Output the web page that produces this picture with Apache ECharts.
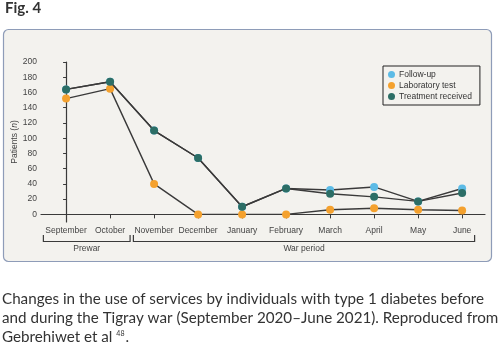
<!DOCTYPE html>
<html>
<head>
<meta charset="utf-8">
<script src="https://cdn.jsdelivr.net/npm/echarts@6/dist/echarts.min.js"></script>
<style>
  html, body { margin: 0; padding: 0; background: #ffffff; }
  #chart { width: 502px; height: 345px; }
</style>
</head>
<body>
<div id="chart"></div>
<script>
// Months on the x axis (September 2020 – June 2021)
const months = ['September', 'October', 'November', 'December', 'January',
                'February', 'March', 'April', 'May', 'June'];
// Patients (n) per month for each service
const followUp = [164, 174, 110, 74, 10, 34, 32, 36, 17, 34];
const labTest = [152, 165, 40, 0, 0, 0, 6, 8, 6, 5];
const treatment = [164, 174, 110, 74, 10, 34, 27, 23, 17, 28];
const yTicks = [0, 20, 40, 60, 80, 100, 120, 140, 160, 180, 200];
const periods = [
  { name: 'Prewar', from: 0, to: 1 },
  { name: 'War period', from: 2, to: 9 }
];
const captionLines = [
  'Changes in the use of services by individuals with type 1 diabetes before',
  'and during the Tigray war (September 2020\u2013June 2021). Reproduced from',
  'Gebrehiwet et al '
];
const captionRef = '48';

const chart = echarts.init(document.getElementById('chart'), null, { renderer: 'canvas' });
const axisFont = 'Liberation Sans';
const captionFont = '15.2px Lato';
const xIdx = months.map((_, i) => i);

function pairs(vals) { return vals.map((v, i) => [i, v]); }

function textWidth(text, font) {
  const ctx = document.createElement('canvas').getContext('2d');
  ctx.font = font;
  return ctx.measureText(text).width;
}

const lineStyle = { color: '#3a3a3a', width: 1.4 };

const option = {
  animation: false,
  backgroundColor: '#ffffff',
  grid: { left: 41, right: 17, top: 62, bottom: 123, containLabel: false, outerBoundsMode: 'none' },
  xAxis: {
    type: 'value',
    min: -0.57,
    max: 9.52,
    splitLine: { show: false },
    axisLine: { lineStyle: { color: '#3a3a3a', width: 1.2 } },
    axisTick: { customValues: xIdx, length: 4, lineStyle: { color: '#3a3a3a' } },
    axisLabel: {
      customValues: xIdx,
      formatter: v => months[Math.round(v)],
      fontFamily: axisFont, fontSize: 8.5, color: '#444', margin: 4
    }
  },
  yAxis: {
    type: 'value',
    min: -10,
    max: 200,
    name: '{a|Patients (}{b|n}{a|)}',
    nameLocation: 'middle',
    nameGap: 22,
    nameMoveOverlap: false,
    nameTextStyle: {
      rich: {
        a: { fontFamily: axisFont, fontSize: 8.5, color: '#444' },
        b: { fontFamily: axisFont, fontSize: 8.5, color: '#444', fontStyle: 'italic' }
      }
    },
    splitLine: { show: false },
    axisLine: { show: true, lineStyle: { color: '#3a3a3a', width: 1.2 } },
    axisTick: { show: true, customValues: yTicks, length: 3, lineStyle: { color: '#3a3a3a' } },
    axisLabel: {
      customValues: yTicks,
      fontFamily: axisFont, fontSize: 8.5, color: '#444', margin: 4
    }
  },
  legend: {
    data: ['Follow-up', 'Laboratory test', 'Treatment received'],
    orient: 'vertical',
    left: 383,
    top: 66,
    width: 97,
    padding: [4, 8, 4, 5],
    itemGap: 2,
    itemWidth: 7,
    itemHeight: 7,
    icon: 'circle',
    borderColor: '#222',
    borderWidth: 1,
    backgroundColor: '#ffffff00',
    textStyle: { fontFamily: axisFont, fontSize: 8.5, color: '#333', padding: [0, 0, 0, -1] }
  },
  series: [
    {
      name: 'Follow-up', type: 'line', data: pairs(followUp),
      symbol: 'circle', symbolSize: 8,
      itemStyle: { color: '#5cbbe6' }, lineStyle: lineStyle, z: 2
    },
    {
      name: 'Laboratory test', type: 'line', data: pairs(labTest),
      symbol: 'circle', symbolSize: 8,
      itemStyle: { color: '#f4a12e' }, lineStyle: lineStyle, z: 3
    },
    {
      name: 'Treatment received', type: 'line', data: pairs(treatment),
      symbol: 'circle', symbolSize: 8,
      itemStyle: { color: '#2c6e66' }, lineStyle: lineStyle, z: 4
    }
  ]
};

chart.setOption(option);

// Decorations: panel, figure title, period brackets and caption
function buildGraphics() {
  const g = [];
  g.push({
    type: 'rect', z: -10, silent: true,
    shape: { x: 3.5, y: 29.5, width: 488, height: 232, r: 5 },
    style: { fill: '#f3f2ee', stroke: '#8e9cb8', lineWidth: 1.2 }
  });
  g.push({
    type: 'text', left: 5, top: 1, silent: true,
    style: { text: 'Fig. 4', font: 'bold 15px Lato', fill: '#333' }
  });
  const bracketTop = 235, bracketBottom = 241.5;
  const padL = [22.7, 20.7], padR = [20, 12.5];
  periods.forEach((p, i) => {
    const x0 = chart.convertToPixel({ gridIndex: 0 }, [p.from, 0])[0] - padL[i];
    const x1 = chart.convertToPixel({ gridIndex: 0 }, [p.to, 0])[0] + padR[i];
    g.push({
      type: 'polyline', silent: true,
      shape: { points: [[x0, bracketTop], [x0, bracketBottom], [x1, bracketBottom], [x1, bracketTop]] },
      style: { stroke: '#3a3a3a', lineWidth: 1.2, fill: null }
    });
    g.push({
      type: 'text', silent: true,
      x: (x0 + x1) / 2, y: 249,
      style: { text: p.name, font: '8.5px "Liberation Sans"', fill: '#444',
               align: 'center', verticalAlign: 'middle' }
    });
  });
  // caption: three lines, the last one followed by a superscript reference
  captionLines.forEach((line, i) => {
    g.push({
      type: 'text', silent: true, x: 2, y: 307 + i * 19,
      style: { text: line, font: captionFont, fill: '#333', verticalAlign: 'bottom' }
    });
  });
  const lastW = textWidth(captionLines[2], captionFont);
  const refW = textWidth(captionRef, '7px Lato');
  g.push({
    type: 'text', silent: true, x: 2 + lastW, y: 330,
    style: { text: captionRef, font: '7px Lato', fill: '#333', verticalAlign: 'top' }
  });
  g.push({
    type: 'text', silent: true, x: 2 + lastW + refW + 1, y: 345,
    style: { text: '.', font: captionFont, fill: '#333', verticalAlign: 'bottom' }
  });
  return g;
}

chart.setOption({ graphic: buildGraphics() });
</script>
</body>
</html>
